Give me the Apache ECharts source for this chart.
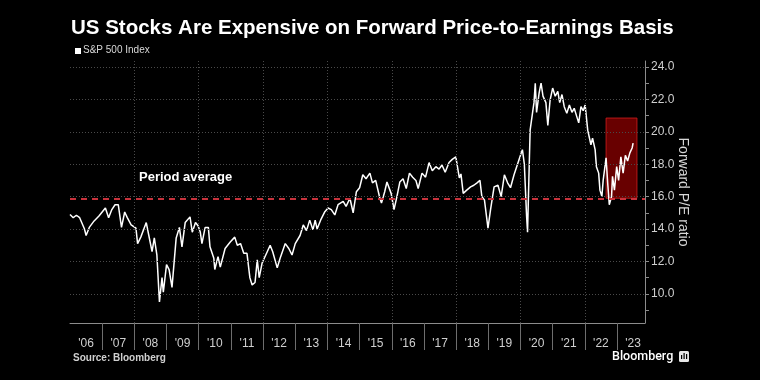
<!DOCTYPE html>
<html>
<head>
<meta charset="utf-8">
<script src="https://cdn.jsdelivr.net/npm/echarts@6/dist/echarts.min.js"></script>
<style>
  html, body { margin: 0; padding: 0; background: #000; }
  #chart { width: 760px; height: 380px; }
</style>
</head>
<body>
<div id="chart"></div>
<script>
// ---- Data ----
// Decimal-year positions of observations
const years = [
  2006.0, 2006.1, 2006.2, 2006.3, 2006.35, 2006.45, 2006.5, 2006.6, 2006.75, 2006.9,
  2007.1, 2007.2, 2007.3, 2007.4, 2007.5, 2007.6, 2007.7, 2007.78, 2007.9, 2008.05,
  2008.1, 2008.2, 2008.37, 2008.45, 2008.55, 2008.62, 2008.7, 2008.78, 2008.86, 2008.9,
  2009.0, 2009.08, 2009.17, 2009.3, 2009.4, 2009.48, 2009.58, 2009.64, 2009.73, 2009.8,
  2009.9, 2009.98, 2010.05, 2010.1, 2010.2, 2010.3, 2010.35, 2010.47, 2010.5, 2010.6,
  2010.67, 2010.82, 2010.98, 2011.12, 2011.2, 2011.3, 2011.4, 2011.5, 2011.59, 2011.66,
  2011.75, 2011.82, 2011.88, 2011.97, 2012.13, 2012.22, 2012.3, 2012.44, 2012.53, 2012.69,
  2012.8, 2012.9, 2013.0, 2013.15, 2013.2, 2013.25, 2013.35, 2013.45, 2013.55, 2013.62,
  2013.68, 2013.8, 2013.92, 2014.02, 2014.12, 2014.23, 2014.33, 2014.49, 2014.58, 2014.7,
  2014.8, 2014.9, 2015.0, 2015.1, 2015.2, 2015.32, 2015.4, 2015.5, 2015.63, 2015.68,
  2015.78, 2015.85, 2015.98, 2016.07, 2016.16, 2016.25, 2016.35, 2016.45, 2016.55, 2016.65,
  2016.75, 2016.82, 2016.94, 2017.05, 2017.16, 2017.26, 2017.37, 2017.47, 2017.56, 2017.66,
  2017.78, 2017.88, 2017.99, 2018.05, 2018.1, 2018.15, 2018.22, 2018.33, 2018.45, 2018.55,
  2018.65, 2018.74, 2018.8, 2018.88, 2018.99, 2019.07, 2019.18, 2019.3, 2019.4, 2019.5,
  2019.6, 2019.69, 2019.8, 2019.9, 2020.0, 2020.06, 2020.12, 2020.19, 2020.22, 2020.26,
  2020.3, 2020.38, 2020.42, 2020.46, 2020.5, 2020.58, 2020.64, 2020.7, 2020.79, 2020.85,
  2020.92, 2021.0, 2021.08, 2021.16, 2021.22, 2021.29, 2021.36, 2021.44, 2021.52, 2021.6,
  2021.67, 2021.74, 2021.81, 2021.88, 2021.95, 2022.01, 2022.09, 2022.14, 2022.19, 2022.24,
  2022.32, 2022.36, 2022.43, 2022.47, 2022.53, 2022.57, 2022.66, 2022.71, 2022.76, 2022.8,
  2022.83, 2022.86, 2022.92, 2022.99, 2023.05, 2023.12, 2023.19, 2023.26, 2023.33, 2023.4,
  2023.47, 2023.5
];
// Forward P/E of the S&P 500 Index
const forwardPE = [
  14.9, 14.7, 14.85, 14.7, 14.8, 14.0, 13.6, 14.1, 14.5, 14.8,
  15.3, 14.7, 15.2, 15.5, 15.5, 14.1, 15.05, 14.7, 14.25, 14.05,
  13.1, 13.5, 14.4, 13.6, 12.6, 13.45, 12.4, 9.5, 11.0, 10.1,
  11.8, 11.5, 10.4, 13.45, 14.1, 12.9, 14.4, 14.4, 14.75, 13.8,
  14.4, 14.2, 13.8, 13.1, 14.1, 14.1, 12.9, 12.2, 11.5, 12.3,
  11.65, 12.8, 13.2, 13.5, 13.0, 13.1, 12.5, 12.5, 11.0, 10.55,
  10.7, 12.1, 11.0, 11.9, 12.6, 13.0, 12.6, 11.6, 12.2, 13.1,
  12.8, 12.4, 13.1, 13.6, 13.5, 14.25, 13.9, 14.55, 13.95, 14.55,
  14.0, 14.6, 15.07, 15.3, 15.2, 14.87, 15.5, 15.7, 15.4, 15.9,
  15.0, 16.3, 16.55, 17.35, 17.1, 17.45, 16.85, 17.0, 15.9, 15.6,
  16.3, 16.9, 16.2, 15.2, 16.0, 16.9, 17.1, 16.5, 17.45, 17.2,
  17.0, 16.5, 17.45, 17.2, 18.1, 17.6, 17.85, 17.7, 17.95, 17.5,
  18.1, 18.3, 18.45, 18.35, 17.15, 17.4, 16.2, 16.4, 16.6, 16.7,
  16.85, 17.0, 16.0, 15.8, 14.05, 15.2, 16.6, 16.7, 16.0, 17.35,
  16.85, 16.55, 17.35, 17.95, 18.55, 18.9, 18.0, 14.8, 13.8, 17.0,
  20.1, 21.25, 21.8, 23.0, 21.2, 22.4, 23.0, 22.2, 21.8, 20.4,
  21.95, 22.7, 22.2, 22.5, 21.8, 22.3, 21.55, 21.15, 21.65, 21.2,
  21.45, 21.0, 20.55, 21.55, 21.3, 21.65, 20.1, 19.65, 19.2, 19.6,
  18.9, 17.85, 17.45, 16.4, 16.0, 17.0, 18.4, 16.85, 15.5, 15.4,
  16.0, 17.25, 16.4, 17.85, 17.0, 18.45, 17.45, 18.55, 18.2, 18.7,
  19.0, 19.3
];
const periodAverage = [15.85];
// Highlighted region: [startYear, endYear], [low, high]
const highlightYears = [2022.66, 2023.62];
const highlightRange = [15.9, 20.85];

// Axis ticks / labels
const xTickYears = [2007, 2008, 2009, 2010, 2011, 2012, 2013, 2014, 2015, 2016, 2017, 2018, 2019, 2020, 2021, 2022, 2023];
const xLabelYears = [2006.5, 2007.5, 2008.5, 2009.5, 2010.5, 2011.5, 2012.5, 2013.5, 2014.5, 2015.5, 2016.5, 2017.5, 2018.5, 2019.5, 2020.5, 2021.5, 2022.5, 2023.5];
const xLabelText = ["'06", "'07", "'08", "'09", "'10", "'11", "'12", "'13", "'14", "'15", "'16", "'17", "'18", "'19", "'20", "'21", "'22", "'23"];
const xGridYears = [2008, 2010, 2012, 2014, 2016, 2018, 2020, 2022];
const yLabelValues = [10, 12, 14, 16, 18, 20, 22, 24];
const yTickValues = [9, 10, 11, 12, 13, 14, 15, 16, 17, 18, 19, 20, 21, 22, 23, 24];

const chart = echarts.init(document.getElementById('chart'), null, { renderer: 'canvas' });

const FONT = 'Liberation Sans';
const gridLineStyle = { color: '#4a4a4a', type: [1, 2], width: 1 };

const option = {
  backgroundColor: '#000',
  animation: false,
  textStyle: { fontFamily: FONT },
  title: {
    text: 'US Stocks Are Expensive on Forward Price-to-Earnings Basis',
    left: 71,
    top: 18,
    padding: 0,
    textStyle: { color: '#fff', fontSize: 20.5, fontWeight: 'bold', fontFamily: FONT }
  },
  grid: { left: 70, right: 115, top: 61, bottom: 57, containLabel: false },
  xAxis: {
    type: 'value',
    min: 2006,
    max: 2023.87,
    axisLine: { show: true, lineStyle: { color: '#8c8c8c', width: 1 } },
    axisTick: { show: true, customValues: xTickYears, length: 27, lineStyle: { color: '#6e6e6e', width: 1 } },
    axisLabel: {
      customValues: xLabelYears,
      color: '#cfcfcf',
      fontSize: 12,
      margin: 15,
      formatter: function (v) {
        const i = xLabelYears.indexOf(v);
        return i >= 0 ? xLabelText[i] : '';
      }
    },
    splitLine: { show: false }
  },
  yAxis: {
    type: 'value',
    position: 'right',
    min: 8.2,
    max: 24.37,
    name: 'Forward P/E ratio',
    nameLocation: 'middle',
    nameRotate: -90,
    nameGap: 31,
    nameMoveOverlap: false,
    nameTextStyle: { color: '#d8d8d8', fontSize: 14, fontFamily: FONT },
    axisLine: { show: true, lineStyle: { color: '#8c8c8c', width: 1 } },
    axisTick: { show: true, customValues: yTickValues, length: 4, lineStyle: { color: '#8c8c8c' } },
    axisLabel: {
      customValues: yLabelValues,
      color: '#cfcfcf',
      fontSize: 12,
      margin: 6,
      formatter: function (v) { return Number(v).toFixed(1); }
    },
    splitLine: { show: false }
  },
  series: [
    {
      name: 'grid',
      type: 'line',
      data: [],
      z: 1,
      silent: true,
      markLine: {
        silent: true,
        symbol: ['none', 'none'],
        label: { show: false },
        lineStyle: gridLineStyle,
        emphasis: { disabled: true },
        data: xGridYears.map(v => ({ xAxis: v })).concat(yLabelValues.map(v => ({ yAxis: v })))
      }
    },
    {
      name: 'average',
      type: 'line',
      data: [],
      z: 2,
      silent: true,
      markLine: {
        silent: true,
        symbol: ['none', 'none'],
        label: { show: false },
        lineStyle: { color: '#c8323c', type: [6, 5], width: 2 },
        emphasis: { disabled: true },
        data: periodAverage.map(v => ({ yAxis: v }))
      }
    },
    {
      name: 'S&P 500 Index',
      type: 'line',
      data: years.map((y, i) => [y, forwardPE[i]]),
      showSymbol: false,
      symbol: 'none',
      z: 3,
      lineStyle: { color: '#ffffff', width: 1.5 },
      itemStyle: { color: '#ffffff' }
    },
    {
      name: 'highlight',
      type: 'line',
      data: [],
      z: 5,
      silent: true,
      markArea: {
        silent: true,
        itemStyle: { color: 'rgba(190,0,0,0.55)', borderColor: 'rgba(210,30,30,0.8)', borderWidth: 1 },
        data: [[
          { xAxis: highlightYears[0], yAxis: highlightRange[1] },
          { xAxis: highlightYears[1], yAxis: highlightRange[0] }
        ]]
      }
    }
  ],
  graphic: [
    { type: 'rect', left: 75, top: 48, shape: { width: 6, height: 6 }, style: { fill: '#fff' } },
    { type: 'text', left: 83, top: 45.5, style: { text: 'S&P 500 Index', fill: '#d8d8d8', font: '10px "Liberation Sans"' } },
    { type: 'text', left: 139, top: 171, style: { text: 'Period average', fill: '#ffffff', font: 'bold 13px "Liberation Sans"' } },
    { type: 'text', left: 73, top: 353, style: { text: 'Source: Bloomberg', fill: '#d0d0d0', font: 'bold 10px "Liberation Sans"' } },
    { type: 'text', left: 612, top: 350, style: { text: 'Bloomberg', fill: '#ffffff', font: '500 12.5px Roboto' } },
    { type: 'rect', left: 679, top: 351, shape: { width: 10, height: 11, r: 1.5 }, style: { fill: '#e8e8e8' } },
    { type: 'rect', left: 681, top: 355, shape: { width: 1.2, height: 4 }, style: { fill: '#000' } },
    { type: 'rect', left: 683.5, top: 353, shape: { width: 1.2, height: 6 }, style: { fill: '#000' } },
    { type: 'rect', left: 686, top: 354, shape: { width: 1.2, height: 5 }, style: { fill: '#000' } }
  ]
};

chart.setOption(option);
</script>
</body>
</html>
